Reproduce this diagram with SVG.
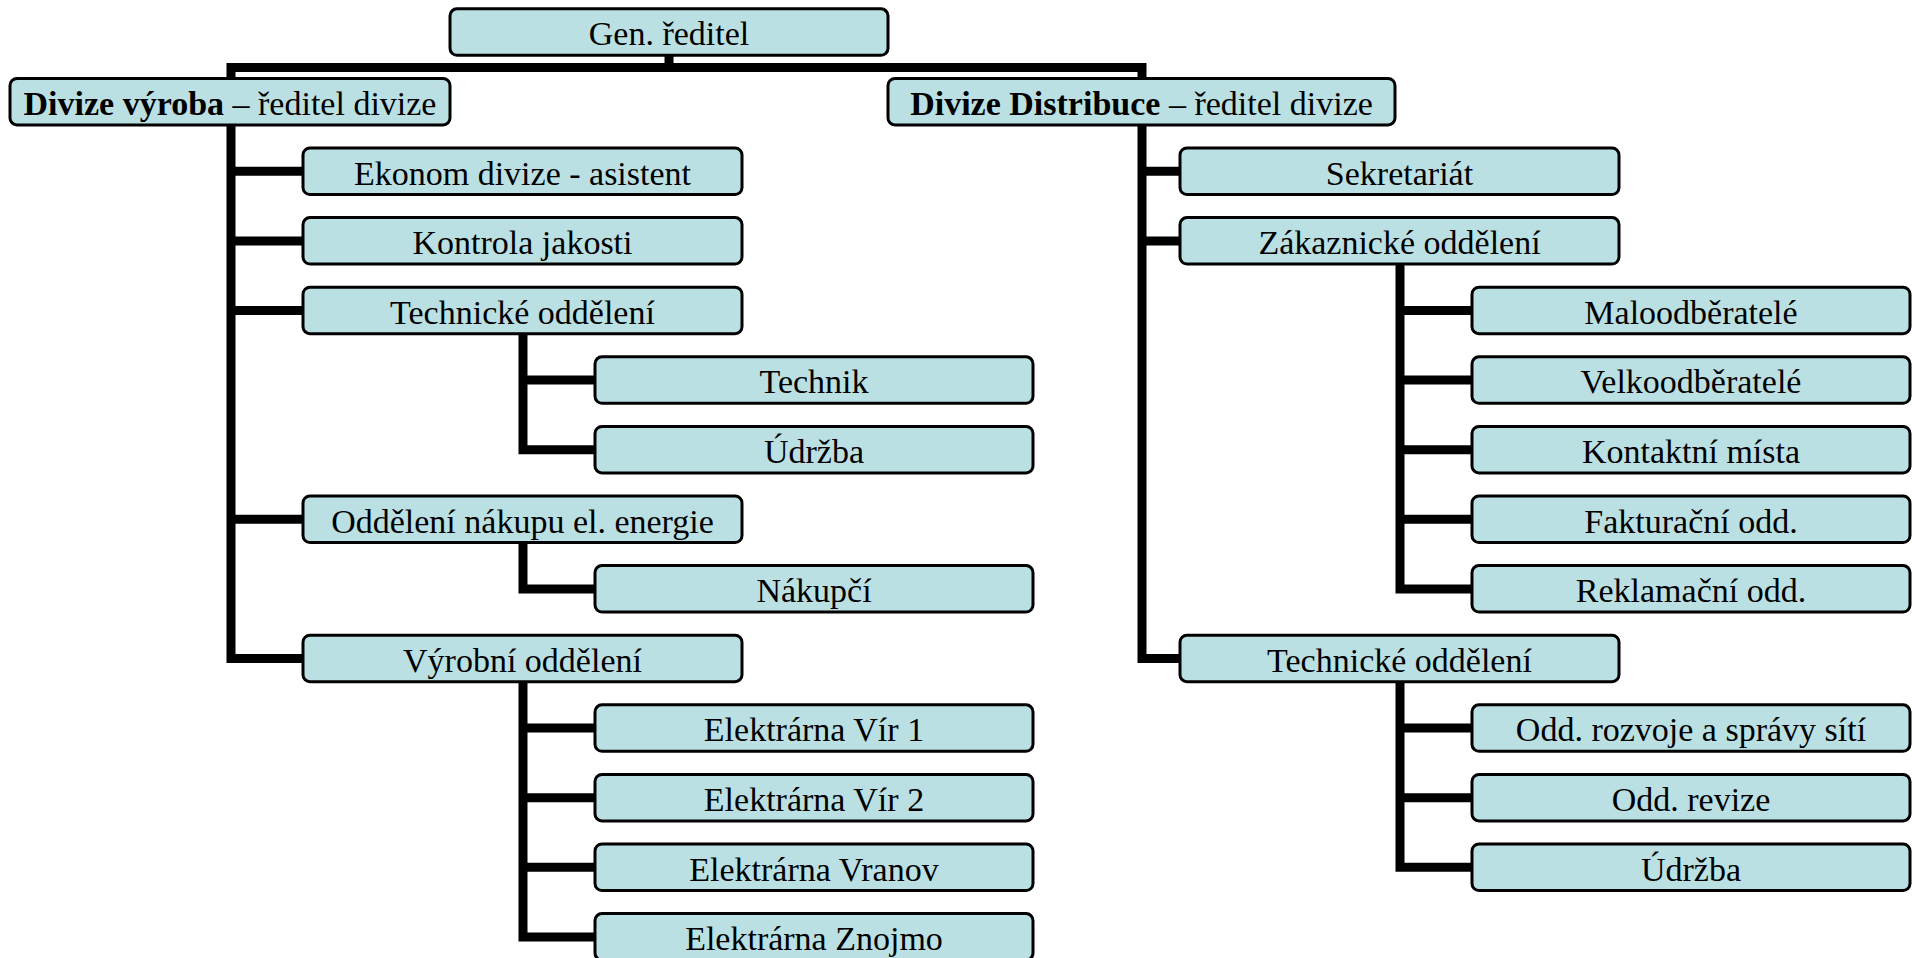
<svg xmlns="http://www.w3.org/2000/svg" width="1912" height="958" viewBox="0 0 1912 958">
<style>
.box rect{fill:#BBE0E3;stroke:#000;stroke-width:3}
.box text{font-family:"Liberation Serif","Times New Roman",serif;font-size:34px;fill:#000;text-anchor:middle}
.b{font-weight:bold}
.conn path{fill:none;stroke:#000;stroke-width:9;stroke-linejoin:miter;stroke-linecap:butt}
</style>
<rect width="1912" height="958" fill="#fff"/>
<g class="conn" id="connectors">
<path d="M669,56 V67.5"/>
<path d="M231,78 V67.5 H1142 V78"/>
<path d="M231,125 V658.5 H305"/>
<path d="M231,171.3 H305 M231,240.9 H305 M231,310.5 H305 M231,519.3 H305"/>
<path d="M523,333.7 V449.7 H597 M523,380.1 H597"/>
<path d="M523,542.5 V588.9 H597"/>
<path d="M523,681.7 V936.9 H597 M523,728.1 H597 M523,797.7 H597 M523,867.3 H597"/>
<path d="M1142,125 V658.5 H1182 M1142,171.3 H1182 M1142,240.9 H1182"/>
<path d="M1400,264.1 V588.9 H1474 M1400,310.5 H1474 M1400,380.1 H1474 M1400,449.7 H1474 M1400,519.3 H1474"/>
<path d="M1400,681.7 V867.3 H1474 M1400,728.1 H1474 M1400,797.7 H1474"/>
</g>
<g class="box" id="gen"><rect x="450" y="8.8" width="438" height="46.5" rx="7"/><text x="669" y="45">Gen. ředitel</text></g>
<g class="box" id="div-vyroba"><rect x="10" y="78.4" width="440" height="46.5" rx="7"/><text x="230" y="115"><tspan class="b">Divize výroba</tspan> – ředitel divize</text></g>
<g class="box" id="div-distribuce"><rect x="888" y="78.4" width="507" height="46.5" rx="7"/><text x="1141.5" y="115"><tspan class="b">Divize Distribuce</tspan> – ředitel divize</text></g>

<g class="box" id="ekonom"><rect x="303" y="148" width="439" height="46.5" rx="7"/><text x="522.5" y="184.5">Ekonom divize - asistent</text></g>
<g class="box" id="kontrola"><rect x="303" y="217.6" width="439" height="46.5" rx="7"/><text x="522.5" y="254.1">Kontrola jakosti</text></g>
<g class="box" id="technicke-l"><rect x="303" y="287.2" width="439" height="46.5" rx="7"/><text x="522.5" y="323.7">Technické oddělení</text></g>
<g class="box" id="technik"><rect x="595" y="356.8" width="438" height="46.5" rx="7"/><text x="814" y="393.3">Technik</text></g>
<g class="box" id="udrzba-l"><rect x="595" y="426.4" width="438" height="46.5" rx="7"/><text x="814" y="462.9">Údržba</text></g>
<g class="box" id="nakup"><rect x="303" y="496" width="439" height="46.5" rx="7"/><text x="522.5" y="532.5">Oddělení nákupu el. energie</text></g>
<g class="box" id="nakupci"><rect x="595" y="565.6" width="438" height="46.5" rx="7"/><text x="814" y="602.1">Nákupčí</text></g>
<g class="box" id="vyrobni"><rect x="303" y="635.2" width="439" height="46.5" rx="7"/><text x="522.5" y="671.7">Výrobní oddělení</text></g>
<g class="box" id="vir1"><rect x="595" y="704.8" width="438" height="46.5" rx="7"/><text x="814" y="741.3">Elektrárna Vír 1</text></g>
<g class="box" id="vir2"><rect x="595" y="774.4" width="438" height="46.5" rx="7"/><text x="814" y="810.9">Elektrárna Vír 2</text></g>
<g class="box" id="vranov"><rect x="595" y="844" width="438" height="46.5" rx="7"/><text x="814" y="880.5">Elektrárna Vranov</text></g>
<g class="box" id="znojmo"><rect x="595" y="913.6" width="438" height="46.5" rx="7"/><text x="814" y="950.1">Elektrárna Znojmo</text></g>

<g class="box" id="sekretariat"><rect x="1180" y="148" width="439" height="46.5" rx="7"/><text x="1399.5" y="184.5">Sekretariát</text></g>
<g class="box" id="zakaznicke"><rect x="1180" y="217.6" width="439" height="46.5" rx="7"/><text x="1399.5" y="254.1">Zákaznické oddělení</text></g>
<g class="box" id="malo"><rect x="1472" y="287.2" width="438" height="46.5" rx="7"/><text x="1691" y="323.7">Maloodběratelé</text></g>
<g class="box" id="velko"><rect x="1472" y="356.8" width="438" height="46.5" rx="7"/><text x="1691" y="393.3">Velkoodběratelé</text></g>
<g class="box" id="kontaktni"><rect x="1472" y="426.4" width="438" height="46.5" rx="7"/><text x="1691" y="462.9">Kontaktní místa</text></g>
<g class="box" id="fakturacni"><rect x="1472" y="496" width="438" height="46.5" rx="7"/><text x="1691" y="532.5">Fakturační odd.</text></g>
<g class="box" id="reklamacni"><rect x="1472" y="565.6" width="438" height="46.5" rx="7"/><text x="1691" y="602.1">Reklamační odd.</text></g>
<g class="box" id="technicke-r"><rect x="1180" y="635.2" width="439" height="46.5" rx="7"/><text x="1399.5" y="671.7">Technické oddělení</text></g>
<g class="box" id="rozvoj"><rect x="1472" y="704.8" width="438" height="46.5" rx="7"/><text x="1691" y="741.3">Odd. rozvoje a správy sítí</text></g>
<g class="box" id="revize"><rect x="1472" y="774.4" width="438" height="46.5" rx="7"/><text x="1691" y="810.9">Odd. revize</text></g>
<g class="box" id="udrzba-r"><rect x="1472" y="844" width="438" height="46.5" rx="7"/><text x="1691" y="880.5">Údržba</text></g>
</svg>
